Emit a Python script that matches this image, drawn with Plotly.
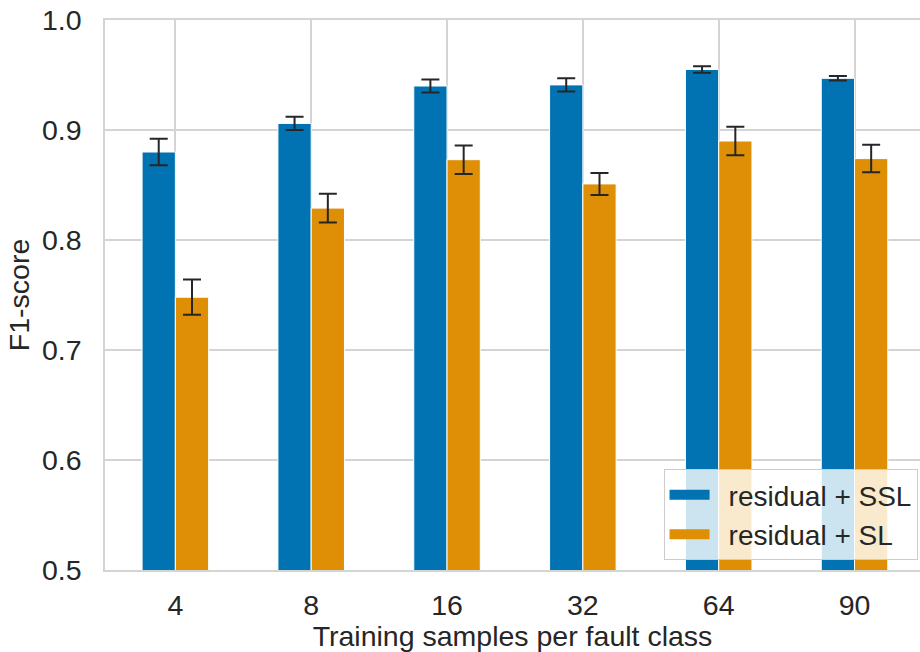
import plotly.graph_objects as go

# Training samples per fault class
categories = ["4", "8", "16", "32", "64", "90"]

# Mean F1-score and error bar half-widths per setting
ssl_mean = [0.880, 0.906, 0.940, 0.941, 0.955, 0.947]
ssl_err = [0.012, 0.006, 0.006, 0.006, 0.003, 0.002]
sl_mean = [0.748, 0.829, 0.873, 0.851, 0.890, 0.874]
sl_err = [0.016, 0.013, 0.013, 0.010, 0.013, 0.0125]

series_names = ["residual + SSL", "residual + SL"]
colors = ["#0173b2", "#de8f05"]

y_ticks = [0.5, 0.6, 0.7, 0.8, 0.9, 1.0]

text_color = "#262626"
grid_color = "#d4d4d4"
font_family = "Liberation Sans, Arial, sans-serif"
font_size = 28.5

fig = go.Figure()
for name, mean, err, color in zip(series_names, [ssl_mean, sl_mean], [ssl_err, sl_err], colors):
    fig.add_trace(go.Bar(
        x=categories,
        y=mean,
        name=name,
        showlegend=False,
        marker=dict(color=color, line=dict(color="white", width=1)),
        error_y=dict(type="data", array=err, visible=True,
                     color=text_color, thickness=2, width=9),
    ))

# Legend entries drawn as wide colour patches, with a little padding before the label
for name, color in zip(series_names, colors):
    fig.add_trace(go.Scatter(
        x=[None], y=[None],
        mode="lines",
        name="\u2002" + name,
        line=dict(color=color, width=12),
        showlegend=True,
    ))

fig.update_layout(
    width=920,
    height=652,
    margin=dict(l=105, r=0, t=20, b=82),
    paper_bgcolor="white",
    plot_bgcolor="white",
    barmode="group",
    bargap=0.51,
    bargroupgap=0,
    font=dict(family=font_family, size=font_size, color=text_color),
    showlegend=True,
    legend=dict(
        x=0.997, y=0.018, xanchor="right", yanchor="bottom",
        bgcolor="rgba(255,255,255,0.8)",
        bordercolor="#cccccc", borderwidth=1,
        font=dict(size=font_size - 0.5, color=text_color),
        tracegroupgap=0,
        itemwidth=40,
    ),
    xaxis=dict(
        title=dict(text="Training samples per fault class", font=dict(size=font_size), standoff=3),
        type="category",
        range=[-0.518, 5.482],
        showgrid=True, gridcolor=grid_color, gridwidth=1.5,
        showline=True, linecolor=grid_color, linewidth=1.5, mirror=True,
        ticks="outside", ticklen=9, tickcolor="rgba(0,0,0,0)",
        tickfont=dict(size=font_size),
    ),
    yaxis=dict(
        title=dict(text="F1-score", font=dict(size=font_size), standoff=4),
        range=[0.5, 1.0],
        tickvals=y_ticks,
        ticktext=[f"{v:.1f}" for v in y_ticks],
        showgrid=True, gridcolor=grid_color, gridwidth=1.5,
        showline=True, linecolor=grid_color, linewidth=1.5,
        zeroline=False,
        ticks="outside", ticklen=16, tickcolor="rgba(0,0,0,0)",
        tickfont=dict(size=font_size),
    ),
)

fig.write_html("out.html")
